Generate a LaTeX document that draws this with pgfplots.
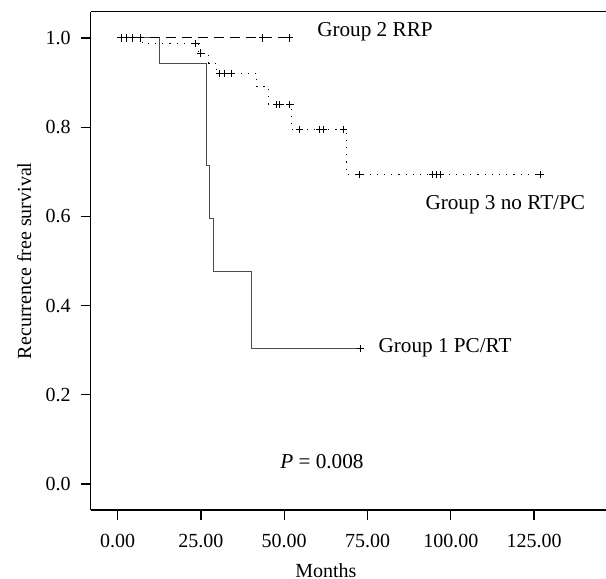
\documentclass[border=0pt]{standalone}
\usepackage{fontspec}
\setmainfont{Liberation Serif}
\usepackage{pgfplots}
\pgfplotsset{compat=1.18}

\begin{document}
\begin{tikzpicture}
\begin{axis}[
    name=ax,
    scale only axis,
    width=257.7pt,
    height=249.2pt,
    xmin=-8.11, xmax=146.6,
    ymin=-0.0583, ymax=1.059,
    axis x line*=bottom,
    axis y line*=left,
    axis line style={line width=0.65pt},
    tick align=outside,
    major tick length=5pt,
    tick style={black,line width=0.6pt},
    xtick={0,25,50,75,100,125},
    ytick={0,0.2,0.4,0.6,0.8,1},
    /pgf/number format/assume math mode=true,
    xticklabel style={yshift=-3.5pt,/pgf/number format/.cd,fixed,fixed zerofill,precision=2},
    yticklabel style={xshift=-1.5pt,/pgf/number format/.cd,fixed,fixed zerofill,precision=1},
    xlabel={Months},
    ylabel={Recurrence free survival},
    every axis x label/.style={at={(axis description cs:0.4563,-0.1214)},anchor=center},
    every axis y label/.style={at={(axis description cs:-0.129,0.5)},rotate=90,anchor=center},
    clip=false,
]
% Group 1 PC/RT
\addplot[const plot, draw=black!70, line width=0.5pt, no marks]
    coordinates {(0,1) (12.7,0.943) (26.7,0.713) (27.7,0.596) (28.9,0.476) (40.2,0.303) (72.8,0.303)};
\addplot[only marks, mark=+, mark size=1.8pt, mark options={line width=0.5pt}, black]
    coordinates {(72.8,0.303)};
% Group 2 RRP
\addplot[const plot, draw=black, line width=0.5pt, dash pattern=on 5pt off 3pt, no marks]
    coordinates {(0,1) (51.6,1)};
\addplot[only marks, mark=+, mark size=1.8pt, mark options={line width=0.5pt}, black]
    coordinates {(1,1) (2.7,1) (4.5,1) (6.7,1) (43.5,1) (51.6,1)};
% Group 3 no RT/PC
\addplot[const plot, draw=black, line width=0.5pt, dash pattern=on 0.6pt off 3pt, no marks]
    coordinates {(0,1) (7.5,0.987) (24.2,0.966) (27.3,0.943) (29.6,0.921) (41.7,0.891)
                 (45.2,0.850) (52.2,0.794) (68.8,0.693) (126.8,0.693)};
\addplot[only marks, mark=+, mark size=1.8pt, mark options={line width=0.5pt}, black]
    coordinates {(23.5,0.987) (24.9,0.966) (30.7,0.921) (32.2,0.921) (34.2,0.921)
                 (47.7,0.850) (48.7,0.850) (51.7,0.850) (54.7,0.794) (60.7,0.794)
                 (61.7,0.794) (67.7,0.794) (72.6,0.693) (94.6,0.693) (95.6,0.693)
                 (96.8,0.693) (126.8,0.693)};
\begin{scope}[every node/.style={inner sep=0pt,font=\fontsize{10.6}{12}\selectfont}]
\node[anchor=west] at (axis cs:59.8,1.014) {Group 2 RRP};
\node[anchor=west] at (axis cs:92.3,0.626) {Group 3 no RT/PC};
\node[anchor=west] at (axis cs:78.2,0.306) {Group 1 PC/RT};
\node at (axis cs:61.3,0.05) {\textit{P} = 0.008};
\end{scope}
\draw[line width=0.65pt] (rel axis cs:0,1) -- (rel axis cs:1,1);
\end{axis}
\pgfresetboundingbox
\useasboundingbox ([xshift=-45.35pt,yshift=-34.5pt]ax.south west) rectangle ([yshift=5.8pt]ax.north east);
\end{tikzpicture}
\end{document}
